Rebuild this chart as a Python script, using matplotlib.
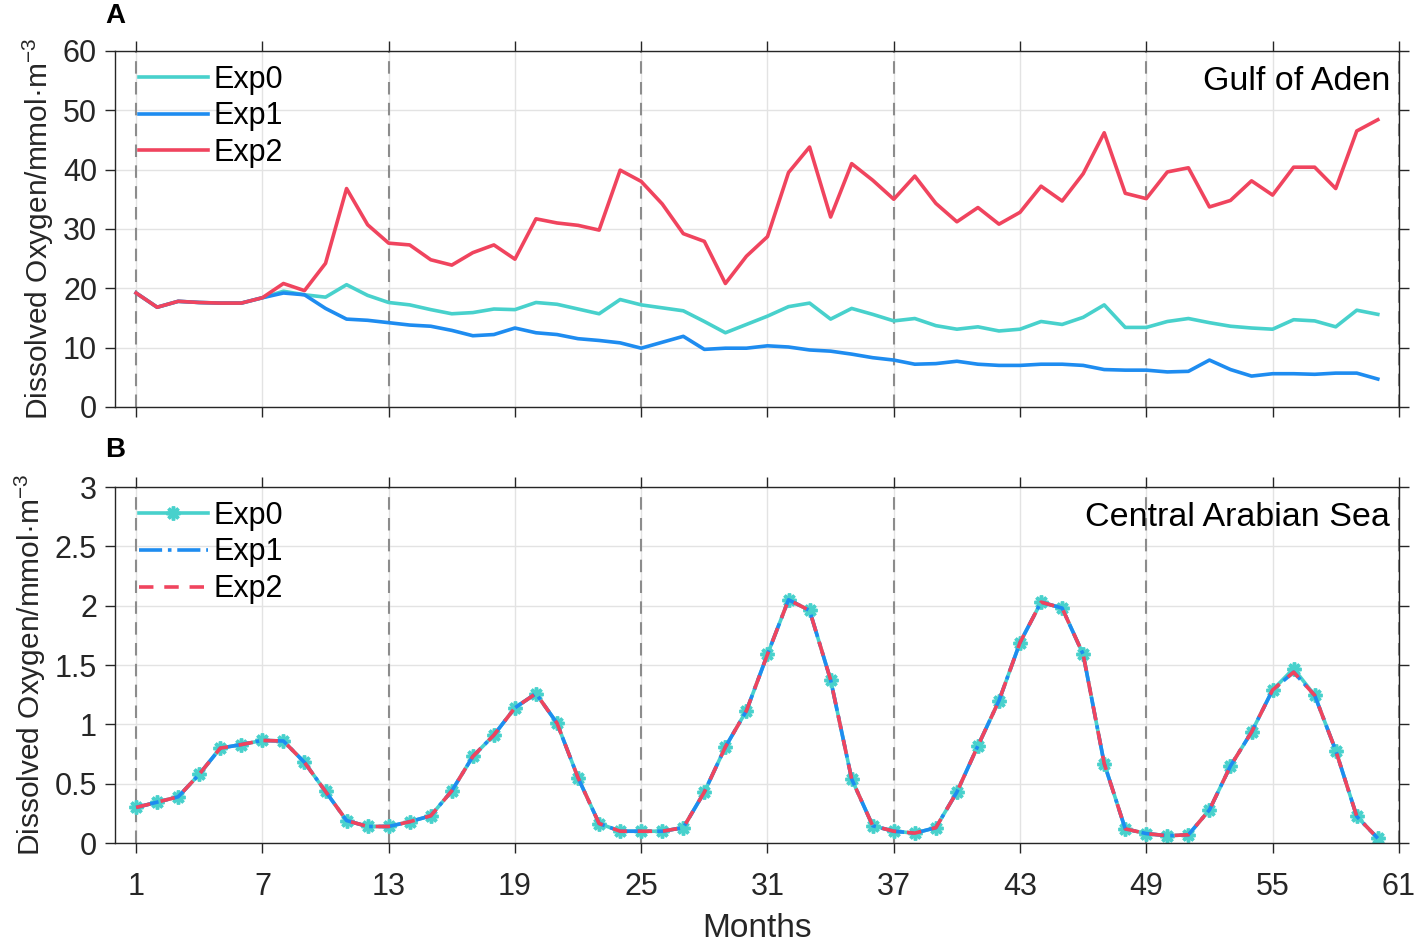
import numpy as np
import matplotlib
matplotlib.use('Agg')
import matplotlib.pyplot as plt

plt.rcParams['font.family'] = ['Liberation Sans', 'DejaVu Sans']
plt.rcParams['mathtext.fontset'] = 'custom'
plt.rcParams['mathtext.rm'] = 'Liberation Sans'
plt.rcParams['mathtext.it'] = 'Liberation Sans:italic'

months = np.arange(1, 61)

# Panel A - Gulf of Aden
aden_exp0 = [19.2, 16.8, 17.8, 17.6, 17.5, 17.5, 18.4, 19.5, 18.9, 18.5,
             20.6, 18.8, 17.6, 17.2, 16.4, 15.7, 15.9, 16.5, 16.4, 17.6,
             17.3, 16.5, 15.7, 18.1, 17.2, 16.7, 16.2, 14.4, 12.5, 13.9,
             15.3, 16.9, 17.5, 14.8, 16.6, 15.6, 14.5, 14.9, 13.7, 13.1,
             13.5, 12.8, 13.1, 14.4, 13.9, 15.1, 17.2, 13.4, 13.4, 14.4,
             14.9, 14.2, 13.6, 13.3, 13.1, 14.7, 14.5, 13.5, 16.3, 15.6]
aden_exp1 = [19.2, 16.8, 17.8, 17.6, 17.5, 17.5, 18.4, 19.2, 18.9, 16.6,
             14.8, 14.6, 14.2, 13.8, 13.6, 12.9, 12.0, 12.2, 13.3, 12.5,
             12.2, 11.5, 11.2, 10.8, 9.9, 10.9, 11.9, 9.7, 9.9, 9.9,
             10.3, 10.1, 9.6, 9.4, 8.9, 8.3, 7.9, 7.2, 7.3, 7.7,
             7.2, 7.0, 7.0, 7.2, 7.2, 7.0, 6.3, 6.2, 6.2, 5.9,
             6.0, 7.9, 6.3, 5.2, 5.6, 5.6, 5.5, 5.7, 5.7, 4.7]
aden_exp2 = [19.2, 16.8, 17.8, 17.6, 17.5, 17.5, 18.4, 20.8, 19.6, 24.2,
             36.8, 30.7, 27.6, 27.3, 24.8, 23.9, 26.0, 27.3, 24.9, 31.7,
             31.0, 30.6, 29.8, 39.9, 38.0, 34.2, 29.2, 27.9, 20.8, 25.4,
             28.7, 39.5, 43.8, 32.0, 41.0, 38.2, 35.0, 38.9, 34.3, 31.2,
             33.6, 30.8, 32.8, 37.2, 34.7, 39.3, 46.2, 36.0, 35.1, 39.6,
             40.3, 33.7, 34.8, 38.1, 35.7, 40.4, 40.4, 36.8, 46.5, 48.4]

# Panel B - Central Arabian Sea
cas_exp0 = [0.30, 0.345, 0.39, 0.58, 0.80, 0.83, 0.865, 0.86, 0.68, 0.435,
            0.19, 0.14, 0.14, 0.18, 0.23, 0.44, 0.73, 0.91, 1.14, 1.26,
            1.01, 0.55, 0.165, 0.10, 0.10, 0.10, 0.13, 0.43, 0.81, 1.115,
            1.59, 2.05, 1.96, 1.375, 0.54, 0.146, 0.10, 0.084, 0.13, 0.43,
            0.82, 1.20, 1.69, 2.03, 1.98, 1.59, 0.67, 0.12, 0.08, 0.062,
            0.07, 0.28, 0.65, 0.935, 1.29, 1.47, 1.245, 0.78, 0.225, 0.04]
cas_exp1 = [0.30, 0.345, 0.39, 0.58, 0.80, 0.83, 0.865, 0.86, 0.68, 0.435,
            0.19, 0.14, 0.14, 0.18, 0.23, 0.44, 0.73, 0.91, 1.14, 1.26,
            1.01, 0.55, 0.165, 0.10, 0.10, 0.10, 0.13, 0.43, 0.81, 1.115,
            1.59, 2.05, 1.96, 1.375, 0.54, 0.146, 0.10, 0.084, 0.13, 0.43,
            0.82, 1.20, 1.69, 2.03, 1.98, 1.59, 0.67, 0.12, 0.08, 0.062,
            0.07, 0.28, 0.65, 0.935, 1.29, 1.44, 1.245, 0.78, 0.225, 0.04]
cas_exp2 = list(cas_exp1)

labels = ['Exp0', 'Exp1', 'Exp2']
c0, c1, c2 = '#48d1cc', '#1e8cf0', '#f0445e'
ylab = 'Dissolved Oxygen/mmol\u00b7m$^{-3}$'

fig = plt.figure(figsize=(14.17, 9.42), dpi=100)
axA = fig.add_axes([0.0812, 0.568, 0.906, 0.378])
axB = fig.add_axes([0.0812, 0.105, 0.906, 0.378])

axA.plot(months, aden_exp0, color=c0, lw=2.6, label=labels[0])
axA.plot(months, aden_exp1, color=c1, lw=2.6, label=labels[1])
axA.plot(months, aden_exp2, color=c2, lw=2.6, label=labels[2])

axB.plot(months, cas_exp0, color=c0, lw=2.6, marker=(8, 2, 0), ms=10, mew=2.5,
         label=labels[0])
axB.plot(months, cas_exp1, color=c1, lw=2.6, ls='-.', label=labels[1])
axB.plot(months, cas_exp2, color=c2, lw=2.6, ls=(0, (4, 3)), label=labels[2])

for ax, ylim, yt, title in [(axA, (0, 60), np.arange(0, 61, 10), 'Gulf of Aden'),
                            (axB, (0, 3), np.arange(0, 3.01, 0.5), 'Central Arabian Sea')]:
    ax.set_xlim(0, 61)
    ax.set_ylim(*ylim)
    ax.set_xticks(np.arange(1, 62, 6))
    ax.set_yticks(yt)
    if ax is axB:
        ax.set_yticklabels(['0', '0.5', '1', '1.5', '2', '2.5', '3'])
    ax.grid(True, color='#e3e3e3', lw=1)
    ax.set_axisbelow(True)
    for m in [1, 13, 25, 37, 49, 61]:
        ax.axvline(m, color='#8c8c8c', lw=1.5, ls=(0, (6, 4)), zorder=1)
    ax.tick_params(direction='out', length=7, width=1, labelsize=22,
                   colors='#262626', top=True, right=True)
    ax.tick_params(axis='x', pad=14)
    ax.tick_params(axis='y', pad=6)
    for s in ax.spines.values():
        s.set_color('#262626')
        s.set_linewidth(1)
    ax.set_ylabel(ylab, fontsize=21.5, color='#262626', labelpad=5)
    ax.text(0.993, 0.913, title, transform=ax.transAxes, ha='right', va='center',
            fontsize=24.5, color='black')
    ax.legend(loc='upper left', bbox_to_anchor=(0.008, 1.0), frameon=False,
              fontsize=22, handlelength=2.25, handletextpad=0.2,
              labelspacing=0.22, borderaxespad=0.1, borderpad=0.35)

axA.tick_params(labelbottom=False)
axB.set_xlabel('Months', fontsize=24, color='#262626', labelpad=8)

fig.text(0.074, 0.983, 'A', fontsize=20, fontweight='bold', va='center')
fig.text(0.074, 0.522, 'B', fontsize=20, fontweight='bold', va='center')

fig.savefig('out.png', dpi=100)
